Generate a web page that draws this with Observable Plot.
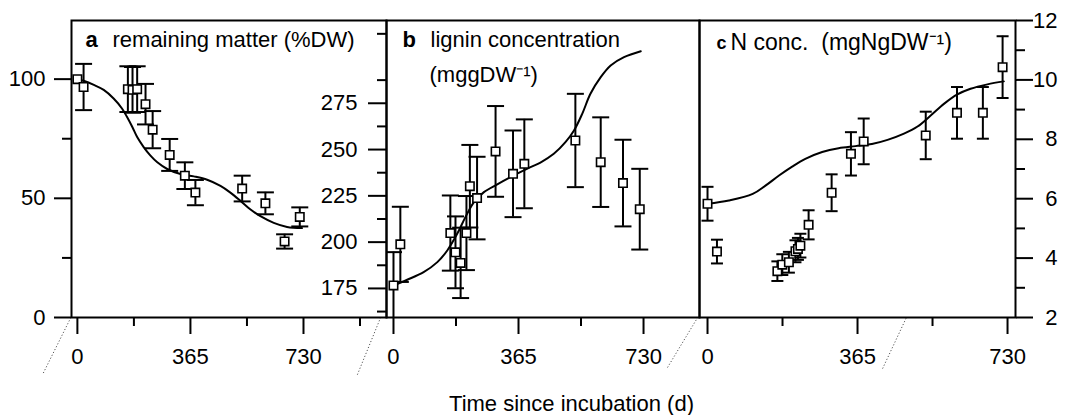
<!DOCTYPE html>
<html><head><meta charset="utf-8">
<script src="https://cdn.jsdelivr.net/npm/d3@7"></script>
<script src="https://cdn.jsdelivr.net/npm/@observablehq/plot@0.6"></script>
<style>
body{margin:0;background:#fff;}
#chart{position:relative;width:1073px;height:415px;background:#fff;}
#chart svg{position:absolute;left:0;top:0;}
</style></head><body><div id="chart"></div>
<script>
// ---------- data ----------
// panel a: remaining matter (%DW)
const daysA = [0, 20, 163, 178, 193, 220, 243, 298, 347, 381, 532, 607, 669, 718];
const matter = [100, 96.7, 95.8, 95.5, 95.8, 89.5, 78.8, 68.2, 59.5, 52.4, 54.1, 47.9, 31.9, 42.2];
const matterErr = [0, 9.7, 9.6, 9.6, 9.6, 8.5, 7.8, 6.7, 5.6, 5.3, 5.4, 4.6, 3.0, 4.0];
const curveADay = [0, 20, 53, 85, 117, 144, 160, 177, 193, 214, 236, 258, 290, 333, 376, 419, 462, 494, 527, 559, 591, 634, 677, 725];
const curveAVal = [100, 99.3, 97.6, 95.5, 91.9, 87.7, 84.2, 80, 75.7, 71.5, 67.9, 65.1, 62.3, 60.2, 59.2, 57.8, 55.2, 52.4, 48.9, 45.3, 42.5, 39.7, 38, 37.5];

// panel b: lignin concentration (mg g DW-1)
const daysB = [0, 20, 166, 181, 196, 213, 223, 244, 298, 349, 382, 531, 605, 670, 719];
const lignin = [176.6, 198.8, 204.9, 194.5, 188.8, 204.9, 230.2, 223.8, 249, 236.9, 242.3, 254.9, 243.2, 231.9, 217.8];
const ligninErr = [18, 20.3, 20.3, 19.4, 19, 20, 22.3, 22.3, 24.5, 23.4, 24, 25.2, 24.2, 23.4, 21.8];
const curveBDay = [0, 40, 88, 128, 157, 186, 210, 235, 264, 303, 351, 400, 429, 468, 502, 527, 551, 575, 605, 634, 673, 722];
const curveBVal = [176.6, 179.7, 183.8, 189.2, 195.5, 204.5, 213.5, 221.6, 227, 231.2, 236, 240.5, 243, 247.7, 254, 260.3, 269.3, 280.1, 289.1, 295.4, 299.9, 303.1];

// panel c: N concentration (mg N g DW-1)
const daysC = [0, 23, 170, 182, 198, 214, 220, 226, 246, 302, 349, 380, 531, 607, 670, 718];
const nConc = [5.83, 4.22, 3.56, 3.78, 3.86, 4.23, 4.31, 4.42, 5.12, 6.2, 7.51, 7.93, 8.13, 8.89, 8.89, 10.43];
const nErr = [0.57, 0.4, 0.33, 0.35, 0.35, 0.37, 0.37, 0.4, 0.49, 0.62, 0.73, 0.77, 0.8, 0.87, 0.87, 1.04];
const curveCDay = [0, 52, 110, 141, 174, 206, 238, 279, 319, 360, 400, 438, 478, 511, 543, 576, 608, 640, 681, 721];
const curveCVal = [5.83, 5.94, 6.16, 6.44, 6.78, 7.08, 7.34, 7.57, 7.70, 7.77, 7.84, 7.98, 8.19, 8.43, 8.80, 9.20, 9.51, 9.70, 9.85, 9.95];

// ticks
const xMajor = [0, 365, 730];
const xMinor = [182.5, 547.5, 912.5];
const yTicksA = [0, 50, 100], yMinorA = [25, 75];
const yTicksB = [175, 200, 225, 250, 275], yMinorB = [162.5, 187.5, 212.5, 237.5, 262.5, 287.5, 312.5];
const yTicksC = [2, 4, 6, 8, 10, 12], yMinorC = [3, 5, 7, 9, 11];

// axis-break dotted lines (data units of each panel)
const breaksA = [{x1: -110, y1: -23.3, x2: -22.6, y2: -0.4}, {x1: 904, y1: -24, x2: 979, y2: 0}];
const breaksB = [{x1: 800, y1: 132.3, x2: 888, y2: 159.3}];
const breaksC = [{x1: 426, y1: 0.28, x2: 484, y2: 2}];

// ---------- helpers ----------
const W = 1073, H = 415;
const FONT = "'Liberation Sans', Arial, Helvetica, sans-serif";
const rows = (days, vals, errs) => days.map((d, i) => ({day: d, v: vals[i], e: errs ? errs[i] : 0}));
const capSym = w => ({draw(ctx) { ctx.moveTo(-w / 2, 0); ctx.lineTo(w / 2, 0); }});
const squareSym = s => ({draw(ctx) { ctx.rect(-s / 2, -s / 2, s, s); }});

function dataMarks(pts, curvePts, capW) {
  const we = pts.filter(d => d.e > 0);
  return [
    Plot.line(curvePts, {x: "day", y: "v", curve: "catmull-rom", stroke: "black", strokeWidth: 2, clip: true}),
    Plot.ruleX(we, {x: "day", y1: d => d.v - d.e, y2: d => d.v + d.e, stroke: "black", strokeWidth: 2, clip: true}),
    Plot.dot(we, {x: "day", y: d => d.v + d.e, symbol: capSym(capW), stroke: "black", strokeWidth: 2, fill: "none", clip: true}),
    Plot.dot(we, {x: "day", y: d => d.v - d.e, symbol: capSym(capW), stroke: "black", strokeWidth: 2, fill: "none", clip: true}),
    Plot.dot(pts, {x: "day", y: "v", symbol: squareSym(8.4), stroke: "black", strokeWidth: 1.6, fill: "white"})
  ];
}
function xAxes(minor) {
  return [
    Plot.axisX({ticks: xMajor, tickSize: 17, tickPadding: 14, label: null, strokeWidth: 2}),
    Plot.axisX({ticks: minor, tickSize: 9, tickFormat: () => "", label: null, strokeWidth: 2})
  ];
}
const breakMark = br => Plot.link(br, {x1: "x1", y1: "y1", x2: "x2", y2: "y2", stroke: "#555", strokeWidth: 1, strokeDasharray: "1.2,2"});
const base = (left, right) => ({
  width: W, height: H, marginLeft: left, marginRight: W - right, marginTop: 20, marginBottom: H - 317,
  style: {background: "transparent", fontSize: "22px", fontFamily: FONT, color: "black", overflow: "visible"}
});
const title = (txt, dx, dy, bold, extra = {}) => Plot.text([txt], {text: d => d, frameAnchor: "top-left", dx, dy, lineAnchor: "top", textAnchor: "start", fontWeight: bold ? "bold" : "normal", fill: "black", ...extra});

// ---------- panel a ----------
const pa = Plot.plot({
  ...base(71, 386),
  x: {domain: [-19, 998]},
  y: {domain: [0, 124.6]},
  marks: [
    ...dataMarks(rows(daysA, matter, matterErr), rows(curveADay, curveAVal), 17),
    Plot.axisY({ticks: yTicksA, tickSize: 17, tickPadding: 9, label: null, strokeWidth: 2}),
    Plot.axisY({ticks: yMinorA, tickSize: 9, tickFormat: () => "", label: null, strokeWidth: 2}),
    ...xAxes(xMinor),
    breakMark(breaksA),
    Plot.frame({strokeWidth: 2}),
    title("a", 14, 11, true),
    title("remaining matter (%DW)", 41, 11, false)
  ]
});

// ---------- panel b ----------
const pb = Plot.plot({
  ...base(386, 699),
  x: {domain: [-20.4, 893.4]},
  y: {domain: [159.3, 319.7]},
  marks: [
    ...dataMarks(rows(daysB, lignin, ligninErr), rows(curveBDay, curveBVal), 17),
    Plot.axisY({ticks: yTicksB, tickSize: 18, tickPadding: 11, label: null, strokeWidth: 2}),
    Plot.axisY({ticks: yMinorB, tickSize: 9, tickFormat: () => "", label: null, strokeWidth: 2}),
    ...xAxes(xMinor.slice(0, 2)),
    breakMark(breaksB),
    Plot.frame({strokeWidth: 2}),
    title("b", 16, 11, true),
    title("lignin concentration", 44, 11, false),
    title("(mggDW\u207B\u00B9)", 43, 45.5, false),
    Plot.text(["Time since incubation (d)"], {text: d => d, frameAnchor: "bottom", dx: 28.5, dy: 78, lineAnchor: "top", fill: "black"})
  ]
});

// ---------- panel c ----------
const pc = Plot.plot({
  ...base(699, 1015),
  x: {domain: [-19.5, 749.4]},
  y: {domain: [2, 12]},
  marks: [
    ...dataMarks(rows(daysC, nConc, nErr), rows(curveCDay, curveCVal), 12),
    Plot.axisY({anchor: "right", ticks: yTicksC, tickSize: 17, tickFormat: () => "", label: null, strokeWidth: 2}),
    Plot.axisY({anchor: "right", ticks: yMinorC, tickSize: 9, tickFormat: () => "", label: null, strokeWidth: 2}),
    Plot.text(yTicksC, {y: d => d, text: d => String(d), frameAnchor: "right", dx: 42, textAnchor: "end", fill: "black"}),
    ...xAxes(xMinor.slice(0, 2)),
    breakMark(breaksC),
    Plot.frame({strokeWidth: 2}),
    title("c", 17, 16, true, {fontSize: 18}),
    title("N conc.  (mgNgDW\u207B\u00B9)", 31, 13, false, {fontSize: 23})
  ]
});

const chart = document.getElementById("chart");
chart.append(pa, pb, pc);
</script></body></html>
